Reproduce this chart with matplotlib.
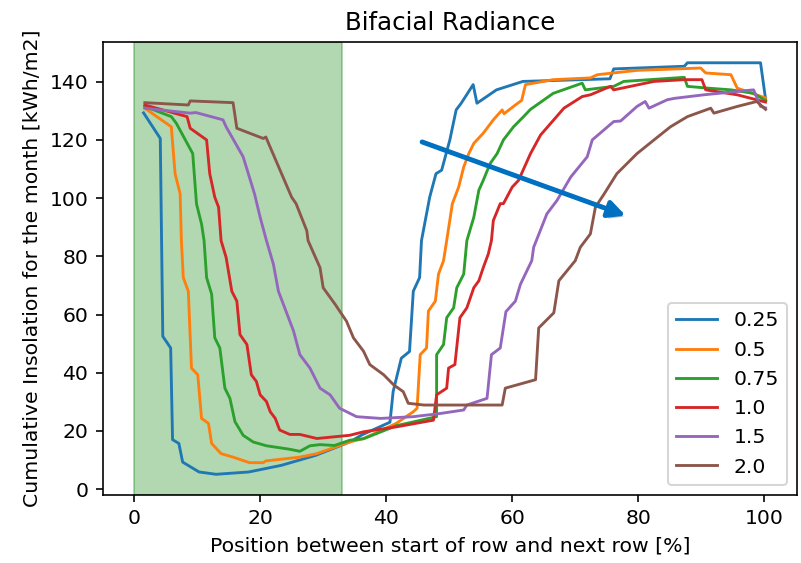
import matplotlib
matplotlib.use("Agg")
import matplotlib.pyplot as plt
import matplotlib.patheffects as pe

# spacing labels (legend)
labels = ["0.25", "0.5", "0.75", "1.0", "1.5", "2.0"]

# position [%] and insolation [kWh/m2]
x_025 = [1.5, 4.15, 4.55, 5.8, 6.1, 7.1, 7.7, 10.3, 13.0, 18.2, 23.4, 28.8, 34.2, 36.2, 40.6,
         41.1, 42.4, 43.7, 44.3, 45.3, 45.6, 46.9, 47.9, 48.8, 50.1, 51.1, 51.9, 53.8, 54.4,
         57.5, 61.7, 75.5, 76.1, 87.3, 87.8, 99.4, 100.2]
y_025 = [129.3, 120.5, 52.5, 48.5, 17.0, 15.7, 9.3, 5.9, 5.1, 5.9, 8.2, 11.6, 16.2, 18.7, 23.0,
         33.5, 45.0, 47.3, 68.0, 72.7, 85.4, 100.3, 108.4, 109.6, 120.0, 130.3, 132.6, 139.0, 132.6,
         137.2, 140.1, 141.0, 144.4, 145.3, 146.5, 146.5, 134.0]

x_05 = [1.7, 5.9, 6.5, 7.3, 7.5, 7.8, 8.6, 9.1, 10.1, 10.7, 11.8, 12.3, 13.8, 15.7, 18.3, 20.5,
        20.9, 26.3, 29.0, 34.2, 36.4, 41.6, 44.3, 44.9, 45.4, 46.4, 46.7, 47.8, 48.3, 49.1, 49.6,
        50.5, 51.5, 52.3, 53.1, 53.9, 55.4, 57.0, 58.4, 58.7, 60.5, 61.5, 62.1, 66.5, 72.4, 73.5,
        79.8, 89.9, 90.7, 94.7, 95.7, 100.2]
y_05 = [130.9, 124.5, 108.4, 101.5, 85.4, 72.7, 68.0, 41.6, 39.3, 24.3, 22.6, 15.7, 12.2, 11.0, 9.1, 9.1,
        9.7, 11.0, 12.2, 16.2, 17.4, 22.6, 26.6, 27.8, 46.2, 48.5, 61.2, 64.6, 73.9, 78.5, 85.4,
        98.1, 103.8, 110.7, 115.3, 118.8, 122.3, 126.9, 130.3, 129.0, 132.0, 133.6, 139.0, 140.7, 141.3, 142.4,
        143.9, 144.7, 143.0, 142.4, 137.8, 134.4]

x_075 = [1.7, 5.9, 6.7, 9.3, 9.9, 10.7, 11.1, 11.5, 12.3, 12.8, 13.6, 14.4, 15.2, 16.0, 17.3, 18.9,
         21.0, 24.7, 26.3, 27.9, 29.5, 31.8, 34.2, 36.4, 41.6, 48.0, 48.0, 49.1, 49.6, 50.7, 51.2,
         52.3, 52.8, 53.9, 54.7, 55.4, 56.5, 57.6, 58.6, 60.2, 61.8, 62.9, 66.5, 71.1, 71.6, 76.1,
         77.7, 87.3, 87.8, 91.0, 94.7, 98.3, 100.2]
y_075 = [131.5, 128.0, 125.7, 115.3, 98.0, 91.1, 85.4, 72.7, 67.0, 52.0, 48.5, 34.7, 31.2, 23.2, 18.5, 16.2,
         14.9, 13.7, 13.0, 14.9, 15.3, 15.0, 16.8, 17.3, 21.8, 24.9, 46.2, 49.7, 58.9, 62.3, 69.2,
         73.9, 85.4, 93.4, 102.7, 106.1, 111.9, 115.3, 120.0, 124.5, 128.0, 130.5, 136.0, 139.5, 137.2, 138.4,
         140.1, 141.5, 138.4, 137.8, 137.2, 136.0, 133.5]

x_10 = [1.7, 8.4, 8.9, 11.5, 12.0, 12.8, 13.4, 13.8, 14.6, 15.5, 16.3, 16.8, 17.9, 18.6, 19.4, 20.0,
        21.0, 21.6, 22.4, 23.1, 24.7, 26.3, 29.0, 34.2, 36.4, 41.6, 47.5, 48.0, 49.6, 49.9, 50.9,
        51.7, 52.8, 53.9, 54.7, 55.4, 56.2, 56.7, 57.0, 58.1, 58.6, 60.0, 61.0, 62.9, 64.5, 68.2,
        71.1, 72.4, 75.6, 76.1, 82.5, 87.3, 90.1, 90.7, 95.7, 100.2]
y_10 = [132.0, 128.0, 124.0, 120.0, 108.4, 100.3, 96.9, 85.4, 79.6, 68.0, 64.6, 53.1, 49.7, 39.3, 37.0, 32.4,
        30.1, 26.6, 24.3, 20.3, 18.8, 18.8, 17.4, 18.5, 19.7, 21.4, 23.7, 32.4, 34.7, 41.6, 42.8,
        58.9, 62.3, 69.2, 71.6, 76.1, 80.8, 85.4, 92.3, 98.1, 98.1, 103.8, 106.1, 115.3, 121.7, 130.9,
        134.9, 135.5, 138.4, 137.2, 140.1, 140.7, 140.7, 137.2, 135.5, 133.0]

x_15 = [1.7, 8.9, 9.8, 14.1, 14.6, 17.3, 19.1, 20.0, 21.0, 22.1, 22.9, 25.3, 26.3, 27.9, 29.5, 31.1,
        32.6, 35.3, 39.1, 44.3, 48.6, 52.3, 52.8, 56.0, 56.7, 58.1, 59.0, 60.5, 61.3, 63.1, 63.4,
        65.5, 67.1, 69.3, 71.9, 72.7, 76.1, 77.2, 79.8, 81.1, 81.7, 84.6, 85.8, 90.4, 98.3, 99.4, 100.2]
y_15 = [130.9, 129.2, 129.4, 126.9, 124.5, 114.2, 101.5, 93.4, 85.4, 77.3, 68.0, 54.3, 46.2, 41.6, 34.7, 32.4,
        27.8, 24.9, 24.3, 24.9, 26.0, 27.2, 28.9, 31.2, 46.2, 48.5, 61.0, 64.6, 70.4, 78.5, 83.1,
        94.6, 99.2, 107.3, 114.2, 120.0, 126.3, 126.5, 131.5, 133.2, 130.9, 133.8, 134.3, 135.5, 137.2, 131.5, 131.0]

x_20 = [1.7, 8.6, 8.9, 15.7, 16.3, 20.5, 20.9, 25.0, 25.7, 27.4, 27.6, 29.5, 30.0, 31.9, 33.7, 34.8,
        36.4, 37.4, 39.6, 41.2, 42.7, 43.5, 46.0, 52.3, 58.4, 58.9, 63.7, 64.2, 66.6, 67.4, 70.0,
        70.8, 72.4, 73.2, 74.6, 76.6, 79.8, 82.5, 85.1, 87.8, 91.5, 92.0, 95.7, 98.8, 100.2]
y_20 = [132.8, 132.0, 133.4, 132.8, 124.0, 120.5, 121.0, 100.3, 98.1, 88.8, 85.4, 76.1, 69.2, 63.5, 57.7, 52.0,
        47.4, 42.8, 39.3, 35.8, 33.5, 29.5, 28.9, 28.9, 28.9, 34.7, 37.6, 55.4, 60.6, 71.6, 78.5,
        83.1, 87.7, 96.9, 101.5, 108.4, 115.3, 120.0, 124.5, 128.0, 130.9, 129.2, 131.5, 133.2, 130.5]

xs = [x_025, x_05, x_075, x_10, x_15, x_20]
ys = [y_025, y_05, y_075, y_10, y_15, y_20]

fig = plt.figure(figsize=(5.45, 3.83), dpi=147)
ax = fig.add_subplot(111)
fig.subplots_adjust(left=0.128, right=0.995, top=0.925, bottom=0.121)

ax.axvspan(0, 33, color="green", alpha=0.3)

for x, y, lab in zip(xs, ys, labels):
    ax.plot(x, y, label=lab, lw=1.4)

# arrow showing the shift with increasing spacing
ann = ax.annotate("", xy=(78.0, 94.0), xytext=(45.7, 119.3),
                  arrowprops=dict(arrowstyle="-|>", color="#0070C0", lw=2.4,
                                  mutation_scale=17, shrinkA=0, shrinkB=0))
ann.arrow_patch.set_path_effects([pe.SimplePatchShadow(offset=(1.5, -1.5), alpha=0.25), pe.Normal()])

ax.set_title("Bifacial Radiance")
ax.set_xlabel("Position between start of row and next row [%]")
ax.set_ylabel("Cumulative Insolation for the month [kWh/m2]")
ax.legend(loc="lower right")

plt.savefig("out.png", dpi=147)
